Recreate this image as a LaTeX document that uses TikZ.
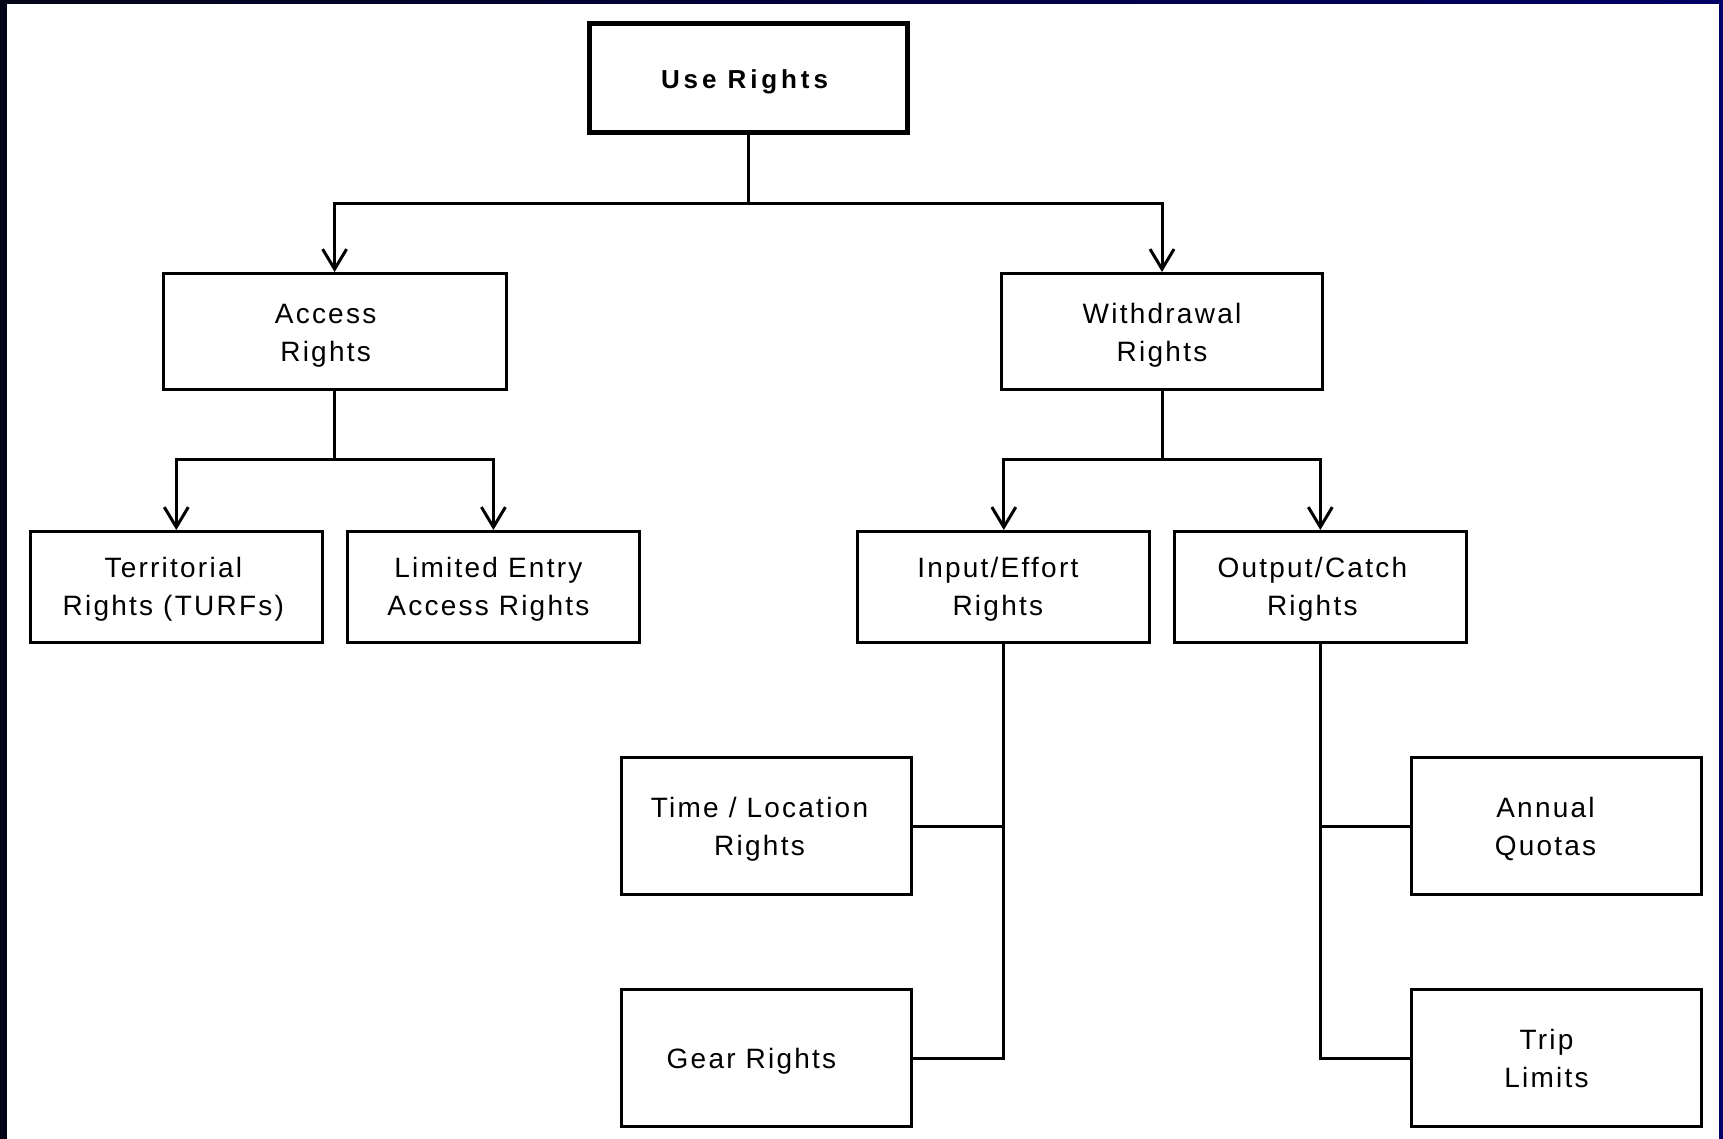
\documentclass[tikz,border=0pt]{standalone}
\usepackage{fontspec}
\setmainfont{Liberation Sans}
\newfontfamily\boxfont[LetterSpace=8]{Liberation Sans}
\newfontfamily\headfont[LetterSpace=15]{Liberation Sans}
\usetikzlibrary{arrows.meta, calc}

\definecolor{frameblue}{RGB}{0,0,102}
\definecolor{framedark}{RGB}{4,4,24}

\begin{document}
\begin{tikzpicture}[x=1pt, y=-1pt,
    box/.style={draw, line width=3pt, minimum width=292pt, minimum height=111pt, inner sep=0pt},
    lowbox/.style={box, minimum width=290pt, minimum height=137pt},
    txt/.style={align=center, inner sep=0pt, font=\boxfont\fontsize{28}{38}\selectfont,
      execute at begin node={\rule{0pt}{26pt}}},
    headtxt/.style={txt, font=\headfont\bfseries\fontsize{26}{32}\selectfont},
    link/.style={line width=3pt},
    arr/.style={link, -{Straight Barb[length=20pt, width=24pt]}}]
        \useasboundingbox (0,0) rectangle (1723,1138);
        \shade[left color=framedark, right color=frameblue] (0,0) rectangle (1723,1138);
        \fill[white] (7,4) rectangle (1719,1142);

        \node[box, line width=5pt, minimum width=318pt, minimum height=109pt,
          label={[headtxt, xshift=-4pt]center:Use Rights}] (use) at (748.5,78) {};
        \node[box, minimum width=343pt, minimum height=116pt,
          label={[txt, xshift=-9pt, yshift=-4pt]center:{Access\\Rights}}] (access) at (334.6,331.5) {};
        \node[box, minimum width=321pt, minimum height=116pt,
          label={[txt, yshift=-4pt]center:{Withdrawal\\Rights}}] (withdraw) at (1162,331.5) {};
        \node[box, label={[txt, xshift=-3pt, yshift=-2pt]center:{Territorial\\Rights (TURFs)}}] (terr) at (176.3,587) {};
        \node[box, label={[txt, xshift=-5pt, yshift=-2pt]center:{Limited Entry\\Access Rights}}] (limited) at (493.4,587) {};
        \node[box, label={[txt, xshift=-6pt, yshift=-2pt]center:{Input/Effort\\Rights}}] (input) at (1003.8,587) {};
        \node[box, label={[txt, xshift=-8pt, yshift=-2pt]center:{Output/Catch\\Rights}}] (output) at (1320.3,587) {};
        \node[lowbox, label={[txt, xshift=-7pt, yshift=-3pt]center:{Time / Location\\Rights}}] (timeloc) at (766.5,826) {};
        \node[lowbox, label={[txt, xshift=-15pt]center:Gear Rights}] (gear) at (766.5,1058) {};
        \node[lowbox, label={[txt, xshift=-11pt, yshift=-3pt]center:{Annual\\Quotas}}] (annual) at (1556.5,826) {};
        \node[lowbox, label={[txt, xshift=-10pt]center:{Trip\\Limits}}] (trip) at (1556.5,1058) {};

        \coordinate (usej) at (748.5,203);
        \coordinate (accj) at (334.6,459);
        \coordinate (wdrj) at (1162,459);

        \draw[link] (use) -- (usej);
        \draw[arr] (usej) -| (access);
        \draw[arr] (usej) -| (withdraw);
        \draw[link] (access) -- (accj);
        \draw[arr] (accj) -| (terr);
        \draw[arr] (accj) -| (limited);
        \draw[link] (withdraw) -- (wdrj);
        \draw[arr] (wdrj) -| (input);
        \draw[arr] (wdrj) -| (output);
        \draw[link] (input) |- (timeloc);
        \draw[link] (input) |- (gear);
        \draw[link] (output) |- (annual);
        \draw[link] (output) |- (trip);
    \end{tikzpicture}
\end{document}
